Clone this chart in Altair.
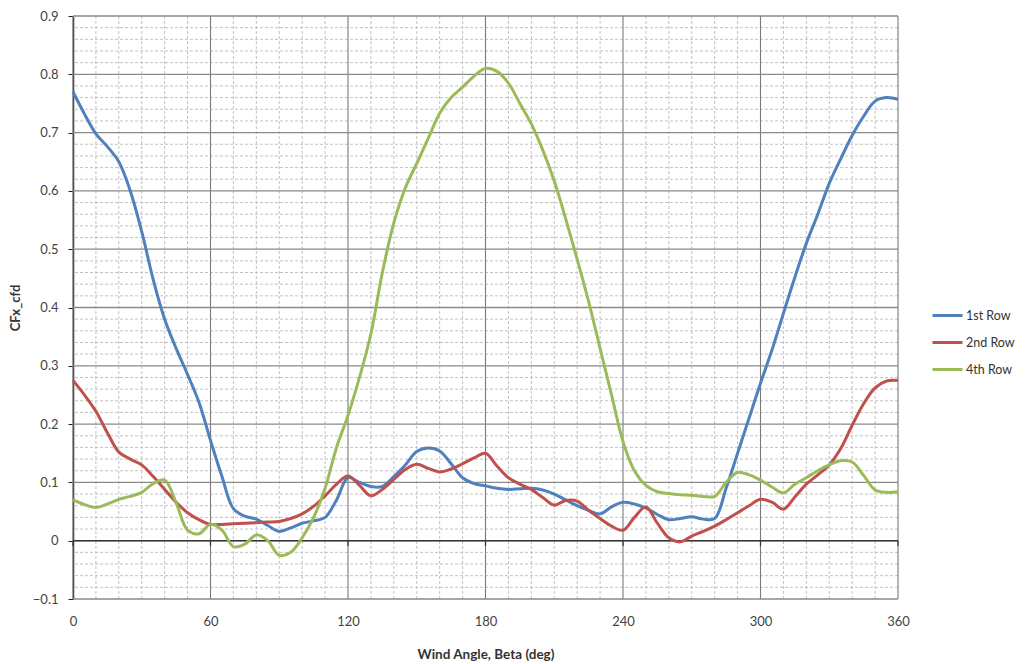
import altair as alt
import pandas as pd

# Wind angle (deg) and force coefficient per row
angles = [0, 5, 10, 15, 20, 25, 30, 35, 40, 45, 50, 55, 60, 65, 70, 75, 80, 85, 90,
          95, 100, 105, 110, 115, 120, 125, 130, 135, 140, 145, 150, 155, 160, 165,
          170, 175, 180, 185, 190, 195, 200, 205, 210, 215, 220, 225, 230, 235, 240,
          245, 250, 255, 260, 265, 270, 275, 280, 285, 290, 295, 300, 305, 310, 315,
          320, 325, 330, 335, 340, 345, 350, 355, 360]

row1 = [0.770, 0.732, 0.698, 0.676, 0.650, 0.600, 0.530, 0.448, 0.380, 0.330, 0.285,
        0.237, 0.172, 0.110, 0.055, 0.042, 0.037, 0.026, 0.016, 0.022, 0.030, 0.034,
        0.040, 0.070, 0.108, 0.100, 0.093, 0.093, 0.110, 0.130, 0.153, 0.159, 0.154,
        0.132, 0.108, 0.098, 0.094, 0.090, 0.088, 0.089, 0.090, 0.087, 0.080, 0.070,
        0.060, 0.052, 0.046, 0.058, 0.066, 0.063, 0.056, 0.045, 0.036, 0.038, 0.041,
        0.037, 0.038, 0.090, 0.150, 0.210, 0.270, 0.327, 0.390, 0.452, 0.510, 0.560,
        0.613, 0.655, 0.695, 0.728, 0.754, 0.760, 0.757]

row2 = [0.275, 0.250, 0.222, 0.185, 0.152, 0.140, 0.130, 0.110, 0.088, 0.066, 0.048,
        0.036, 0.028, 0.028, 0.029, 0.030, 0.031, 0.032, 0.033, 0.038, 0.046, 0.059,
        0.077, 0.097, 0.111, 0.095, 0.077, 0.088, 0.105, 0.122, 0.131, 0.124, 0.118,
        0.123, 0.132, 0.142, 0.150, 0.128, 0.108, 0.097, 0.088, 0.074, 0.061, 0.069,
        0.068, 0.052, 0.038, 0.025, 0.018, 0.040, 0.058, 0.030, 0.005, -0.002, 0.008,
        0.016, 0.025, 0.036, 0.048, 0.060, 0.071, 0.066, 0.054, 0.075, 0.097, 0.113,
        0.130, 0.158, 0.198, 0.235, 0.262, 0.274, 0.275]

row4 = [0.070, 0.062, 0.057, 0.063, 0.071, 0.076, 0.083, 0.098, 0.104, 0.065, 0.018,
        0.012, 0.028, 0.018, -0.010, -0.006, 0.010, 0.000, -0.025, -0.020, 0.005,
        0.040, 0.090, 0.160, 0.215, 0.280, 0.355, 0.460, 0.545, 0.605, 0.647, 0.690,
        0.733, 0.760, 0.778, 0.797, 0.810, 0.805, 0.785, 0.750, 0.715, 0.670, 0.617,
        0.552, 0.483, 0.410, 0.330, 0.250, 0.170, 0.120, 0.095, 0.084, 0.081, 0.079,
        0.078, 0.076, 0.076, 0.100, 0.117, 0.113, 0.104, 0.092, 0.082, 0.097, 0.108,
        0.120, 0.130, 0.137, 0.135, 0.112, 0.087, 0.083, 0.084]

series_names = ["1st Row", "2nd Row", "4th Row"]
series_colors = ["#4F81BD", "#C0504D", "#9BBB59"]

x_major = [0, 60, 120, 180, 240, 300, 360]
x_minor = [v for v in range(0, 361, 10) if v % 60 != 0]
y_major = [-0.1, 0.0, 0.1, 0.2, 0.3, 0.4, 0.5, 0.6, 0.7, 0.8, 0.9]
y_minor = [round(-0.1 + 0.02 * i, 2) for i in range(51) if i % 5 != 0]

frames = []
for name, vals in zip(series_names, [row1, row2, row4]):
    frames.append(pd.DataFrame({"angle": angles, "value": vals, "series": name}))
lines_df = pd.concat(frames, ignore_index=True)

FONT = "Lato"
xscale = alt.Scale(domain=[0, 360], nice=False, zero=False)
yscale = alt.Scale(domain=[-0.1, 0.9], nice=False, zero=False)

x_axis = alt.Axis(
    values=x_major, title="Wind Angle, Beta (deg)", grid=False,
    domain=False, ticks=False, labelPadding=16, titlePadding=19,
    labelFlush=False, labelBound=False,
    labelFontSize=13, labelColor="#444444", labelFont=FONT,
    titleFont=FONT, titleFontSize=13.5, titleFontWeight="bold",
    titleColor="#333333",
)
y_axis = alt.Axis(
    values=y_major, title="CFx_cfd", grid=False, domain=True,
    domainColor="#222222", domainWidth=1.5, ticks=True, tickSize=5,
    tickColor="#222222", labelPadding=10, titlePadding=10,
    labelFlush=False, labelBound=False,
    labelExpr="datum.value == 0 ? '0' : format(datum.value, '.1f')",
    labelFontSize=13, labelColor="#444444", labelFont=FONT,
    titleFont=FONT, titleFontSize=13, titleFontWeight="bold",
    titleColor="#333333",
)

minor_v = alt.Chart(pd.DataFrame({"angle": x_minor})).mark_rule(
    color="#c2c2c2", strokeWidth=1, strokeDash=[3, 2]
).encode(x=alt.X("angle:Q", scale=xscale, axis=x_axis))

minor_h = alt.Chart(pd.DataFrame({"value": y_minor})).mark_rule(
    color="#c2c2c2", strokeWidth=1, strokeDash=[3, 2]
).encode(y=alt.Y("value:Q", scale=yscale, axis=y_axis))

major_v = alt.Chart(pd.DataFrame({"angle": x_major})).mark_rule(
    color="#7a7a7a", strokeWidth=1.1
).encode(x=alt.X("angle:Q", scale=xscale, axis=x_axis))

major_h = alt.Chart(pd.DataFrame({"value": y_major})).mark_rule(
    color="#8a8a8a", strokeWidth=1.3
).encode(y=alt.Y("value:Q", scale=yscale, axis=y_axis))

# horizontal category axis crossing at zero
zero_line = alt.Chart(pd.DataFrame({"value": [0.0]})).mark_rule(
    color="#333333", strokeWidth=1.6
).encode(y=alt.Y("value:Q", scale=yscale, axis=y_axis))

zero_ticks = alt.Chart(pd.DataFrame({"angle": x_major})).mark_rule(
    color="#333333", strokeWidth=1.2
).encode(
    x=alt.X("angle:Q", scale=xscale, axis=x_axis),
    y=alt.datum(0.0, scale=yscale, axis=y_axis),
    y2=alt.datum(-0.009),
)

lines = alt.Chart(lines_df).mark_line(
    interpolate="catmull-rom", strokeWidth=3
).encode(
    x=alt.X("angle:Q", scale=xscale, axis=x_axis),
    y=alt.Y("value:Q", scale=yscale, axis=y_axis),
    color=alt.Color(
        "series:N",
        scale=alt.Scale(domain=series_names, range=series_colors),
        legend=alt.Legend(
            title=None, orient="none", legendX=858, legendY=283,
            symbolType="stroke", symbolStrokeWidth=3, symbolSize=900,
            labelFont=FONT, labelFontSize=12.5, labelColor="#333333",
            labelOffset=2, rowPadding=4,
        ),
    ),
)

chart = alt.layer(
    minor_v, minor_h, major_v, major_h, zero_line, zero_ticks, lines
).properties(
    width=825, height=583,
    autosize=alt.AutoSizeParams(type="none"),
    padding={"left": 73, "top": 16, "right": 130, "bottom": 65},
    background="white",
).configure_view(stroke=None)

chart.save("out.html", embed_options={"renderer": "svg", "actions": False})
